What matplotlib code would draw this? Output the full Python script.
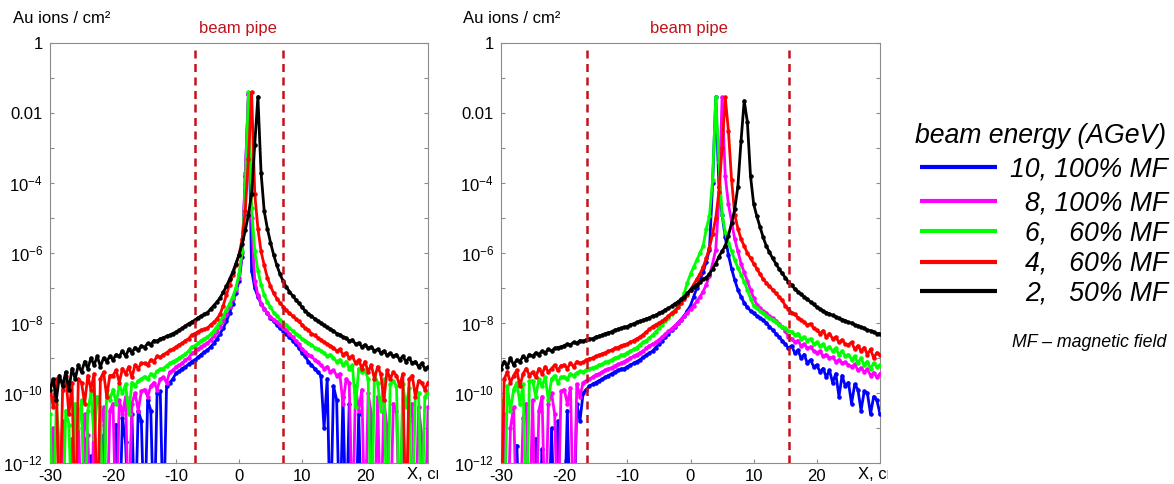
import numpy as np
import matplotlib
matplotlib.use('Agg')
import matplotlib.pyplot as plt
from matplotlib.transforms import Bbox, TransformedBbox
from matplotlib.ticker import FixedLocator, FuncFormatter, NullLocator

plt.rcParams['font.family'] = ['Liberation Sans', 'DejaVu Sans']
plt.rcParams['mathtext.fontset'] = 'custom'
plt.rcParams['mathtext.rm'] = 'Liberation Sans'
plt.rcParams['mathtext.it'] = 'Liberation Sans:italic'
plt.rcParams['axes.unicode_minus'] = False

# bin centres (cm)
X_BINS = np.arange(-30, 30.01, 0.5)

SERIES_LABELS = ['10, 100% MF', '8, 100% MF', '6,   60% MF', '4,   60% MF', '2,   50% MF']
COLORS = ['#0000ff', '#ff00ff', '#00ff00', '#ff0000', '#000000']

# log10(Au ions / cm^2) per bin; -14 = empty bin (below the axis)
LEFT_BLUE = [
    -14, -14, -14, -14, -11.6, -14, -14, -14, -14, -14,
    -14, -11.3, -14, -11.8, -14, -14, -14, -11.2, -14, -14,
    -14, -10.9, -14, -10.7, -11.4, -14, -10.6, -14, -10.5, -10.8,
    -14, -10.2, -10.5, -14, -10.0, -9.95, -14, -9.8, -9.7, -9.6,
    -9.43, -9.38, -9.3, -9.25, -9.18, -9.1, -9.05, -8.98, -8.9, -8.83,
    -8.77, -8.68, -8.58, -8.45, -8.3, -8.15, -7.95, -7.72, -7.45, -7.15,
    -6.8, -6.1, -3.8, -1.45, -6.5, -7.0, -7.25, -7.45, -7.6, -7.72,
    -7.85, -7.95, -8.05, -8.15, -8.22, -8.3, -8.4, -8.5, -8.6, -8.7,
    -8.85, -8.95, -9.1, -9.2, -9.3, -9.4, -9.5, -11.0, -9.6, -14,
    -9.8, -10.2, -14, -10.1, -14, -10.3, -14, -14, -10.6, -14,
    -14, -14, -10.8, -14, -14, -14, -14, -14, -14, -14,
    -14, -14, -14, -14, -14, -14, -14, -14, -14, -14,
    -14]
LEFT_MAGENTA = [
    -14, -11.0, -14, -14, -10.8, -14, -14, -11.3, -14, -10.7,
    -14, -10.6, -11.2, -14, -10.5, -14, -10.9, -10.4, -14, -10.5,
    -10.3, -14, -10.2, -10.6, -10.1, -14, -10.3, -10.0, -10.5, -9.95,
    -9.9, -10.1, -9.8, -9.7, -9.9, -9.6, -9.55, -9.7, -9.4, -9.35,
    -9.25, -9.2, -9.15, -9.05, -9.0, -8.87, -8.82, -8.75, -8.68, -8.62,
    -8.57, -8.48, -8.38, -8.25, -8.1, -7.95, -7.75, -7.55, -7.3, -7.05,
    -6.7, -6.0, -3.7, -1.45, -5.0, -6.8, -7.2, -7.45, -7.6, -7.72,
    -7.82, -7.9, -7.98, -8.05, -8.15, -8.2, -8.3, -8.4, -8.5, -8.6,
    -8.75, -8.82, -8.9, -8.95, -9.05, -9.12, -9.2, -9.3, -9.25, -9.4,
    -9.35, -9.5, -9.45, -10.3, -9.6, -9.7, -14, -9.8, -10.5, -9.9,
    -14, -10.0, -10.6, -14, -10.1, -14, -10.2, -11.0, -14, -10.3,
    -10.5, -14, -10.2, -14, -10.8, -10.3, -14, -10.4, -11.2, -14,
    -10.4]
LEFT_GREEN = [
    -10.6, -14, -10.3, -11.5, -14, -10.5, -10.9, -14, -10.3, -11.0,
    -10.2, -14, -10.5, -10.0, -11.3, -10.1, -10.4, -14, -9.9, -10.2,
    -9.9, -10.3, -9.8, -10.0, -9.75, -10.6, -9.7, -9.8, -9.65, -9.6,
    -9.53, -9.6, -9.45, -9.5, -9.38, -9.32, -9.3, -9.22, -9.15, -9.1,
    -9.06, -9.0, -8.95, -8.88, -8.8, -8.68, -8.65, -8.58, -8.5, -8.45,
    -8.4, -8.32, -8.22, -8.1, -7.96, -7.8, -7.62, -7.45, -7.25, -7.0,
    -6.6, -5.95, -4.1, -1.4, -4.7, -5.95, -6.5, -6.9, -7.2, -7.4,
    -7.55, -7.7, -7.8, -7.9, -8.0, -8.06, -8.15, -8.22, -8.3, -8.36,
    -8.45, -8.5, -8.57, -8.62, -8.7, -8.75, -8.8, -8.85, -8.95, -8.9,
    -9.0, -9.1, -9.05, -9.2, -9.1, -9.3, -9.2, -10.4, -9.3, -9.4,
    -9.35, -9.6, -14, -9.45, -9.7, -10.5, -9.6, -14, -9.75, -9.65,
    -9.8, -14, -9.75, -10.4, -9.85, -14, -9.9, -10.0, -14, -10.1,
    -10.0]
LEFT_RED = [
    -9.8, -10.4, -9.6, -14, -9.9, -9.5, -10.6, -9.7, -14, -9.6,
    -9.7, -10.3, -9.5, -9.9, -9.45, -14, -9.6, -9.4, -10.1, -9.5,
    -9.5, -9.35, -9.7, -9.3, -9.45, -9.25, -9.55, -9.2, -9.3, -9.15,
    -9.15, -9.2, -9.05, -9.1, -8.95, -8.98, -8.9, -8.85, -8.78, -8.75,
    -8.68, -8.62, -8.58, -8.5, -8.45, -8.34, -8.3, -8.25, -8.2, -8.18,
    -8.15, -8.05, -7.98, -7.88, -7.75, -7.5, -7.2, -6.9, -6.62, -6.35,
    -6.05, -5.6, -4.8, -3.3, -1.4, -4.3, -5.3, -5.95, -6.35, -6.7,
    -6.95, -7.15, -7.3, -7.42, -7.53, -7.63, -7.72, -7.8, -7.88, -7.95,
    -8.05, -8.15, -8.2, -8.3, -8.35, -8.42, -8.48, -8.55, -8.6, -8.65,
    -8.7, -8.8, -8.75, -8.9, -8.85, -9.0, -8.95, -9.15, -9.05, -9.3,
    -9.1, -9.4, -9.2, -9.6, -9.25, -9.45, -10.2, -9.35, -9.6, -9.4,
    -9.5, -9.8, -9.45, -14, -9.6, -9.5, -10.1, -9.65, -9.7, -9.9,
    -9.7]
LEFT_BLACK = [
    -9.9, -9.6, -10.2, -9.5, -9.8, -9.4, -9.9, -9.3, -9.6, -9.2,
    -9.4, -9.1, -9.3, -9.0, -9.2, -8.95, -9.25, -9.0, -9.1, -8.95,
    -9.05, -8.9, -8.95, -8.8, -8.95, -8.75, -8.85, -8.7, -8.78, -8.65,
    -8.7, -8.58, -8.62, -8.5, -8.52, -8.45, -8.42, -8.38, -8.35, -8.3,
    -8.26, -8.2, -8.15, -8.08, -8.02, -7.97, -7.92, -7.85, -7.8, -7.75,
    -7.7, -7.6, -7.5, -7.4, -7.28, -7.12, -6.95, -6.75, -6.55, -6.3,
    -6.05, -5.75, -5.35, -4.9, -4.3, -2.9, -1.53, -3.7, -4.8, -5.3,
    -5.7, -6.05, -6.35, -6.6, -6.8, -6.97, -7.1, -7.22, -7.33, -7.43,
    -7.55, -7.65, -7.73, -7.8, -7.88, -7.94, -8.0, -8.07, -8.12, -8.18,
    -8.22, -8.3, -8.33, -8.4, -8.43, -8.52, -8.48, -8.6, -8.57, -8.68,
    -8.62, -8.72, -8.68, -8.8, -8.75, -8.85, -8.8, -8.92, -8.86, -8.95,
    -8.9, -9.05, -8.95, -9.1, -9.0, -9.15, -9.1, -9.25, -9.15, -9.3,
    -9.25]

RIGHT_BLUE = [
    -14, -14, -14, -14, -14, -11.5, -14, -14, -14, -14,
    -14, -11.3, -14, -11.6, -14, -14, -11.0, -14, -10.8, -14,
    -14, -10.5, -14, -14, -10.3, -10.8, -10.0, -9.9, -9.8, -9.75,
    -9.7, -9.65, -9.6, -9.55, -9.5, -9.45, -9.4, -9.35, -9.32, -9.3,
    -9.25, -9.2, -9.15, -9.1, -9.05, -8.98, -8.92, -8.86, -8.8, -8.7,
    -8.6, -8.5, -8.4, -8.3, -8.2, -8.1, -8.0, -7.9, -7.8, -7.65,
    -7.5, -7.25, -7.0, -6.77, -6.55, -6.25, -5.9, -4.0, -1.54, -4.1,
    -4.9, -5.55, -6.05, -6.45, -6.77, -7.05, -7.25, -7.42, -7.55, -7.65,
    -7.72, -7.8, -7.85, -7.92, -8.0, -8.1, -8.2, -8.3, -8.4, -8.5,
    -8.6, -8.72, -8.65, -8.85, -8.78, -9.0, -8.9, -9.15, -9.05, -9.25,
    -9.2, -9.4, -9.3, -9.55, -9.35, -9.7, -9.45, -10.1, -9.5, -9.8,
    -9.7, -10.3, -9.75, -9.9, -10.5, -9.95, -10.0, -10.6, -10.1, -10.2,
    -10.6]
RIGHT_MAGENTA = [
    -14, -10.6, -14, -11.0, -10.4, -14, -14, -10.7, -10.3, -14,
    -10.2, -14, -10.5, -10.1, -14, -10.3, -10.0, -10.6, -14, -9.95,
    -9.9, -10.3, -9.85, -14, -9.75, -10.1, -9.7, -9.65, -9.6, -9.55,
    -9.48, -9.45, -9.4, -9.35, -9.3, -9.28, -9.22, -9.18, -9.15, -9.1,
    -9.05, -9.0, -8.95, -8.9, -8.85, -8.8, -8.72, -8.65, -8.6, -8.55,
    -8.48, -8.4, -8.32, -8.24, -8.16, -8.08, -8.0, -7.9, -7.8, -7.7,
    -7.6, -7.5, -7.38, -7.25, -7.1, -6.9, -6.65, -6.3, -5.9, -4.5,
    -1.55, -3.8, -4.6, -5.1, -5.6, -5.95, -6.3, -6.55, -6.8, -7.05,
    -7.28, -7.48, -7.58, -7.66, -7.72, -7.8, -7.86, -7.94, -8.02, -8.1,
    -8.22, -8.4, -8.45, -8.55, -8.5, -8.65, -8.6, -8.72, -8.68, -8.8,
    -8.85, -8.8, -8.95, -8.9, -9.0, -8.98, -9.1, -9.05, -9.15, -9.12,
    -9.2, -9.25, -9.18, -9.35, -9.28, -9.4, -9.32, -9.5, -9.42, -9.55,
    -9.45]
RIGHT_GREEN = [
    -10.2, -14, -9.8, -10.5, -9.9, -9.7, -10.3, -9.75, -14, -9.65,
    -9.65, -10.1, -9.6, -9.8, -9.55, -10.2, -9.6, -9.5, -9.7, -9.55,
    -9.53, -9.6, -9.45, -9.5, -9.42, -9.38, -9.4, -9.34, -9.3, -9.28,
    -9.25, -9.2, -9.18, -9.12, -9.1, -9.05, -9.0, -8.98, -8.92, -8.9,
    -8.85, -8.8, -8.75, -8.7, -8.62, -8.55, -8.5, -8.42, -8.35, -8.25,
    -8.15, -8.05, -7.95, -7.85, -7.75, -7.65, -7.55, -7.42, -7.15, -6.85,
    -6.6, -6.4, -6.2, -6.0, -5.8, -5.3, -4.95, -3.9, -1.55, -3.4,
    -4.9, -5.4, -5.7, -5.95, -6.2, -6.42, -6.62, -6.82, -7.05, -7.3,
    -7.5, -7.58, -7.65, -7.72, -7.8, -7.85, -7.92, -7.98, -8.05, -8.1,
    -8.15, -8.22, -8.25, -8.35, -8.3, -8.45, -8.4, -8.5, -8.45, -8.6,
    -8.55, -8.65, -8.6, -8.75, -8.68, -8.8, -8.72, -8.9, -8.8, -8.95,
    -8.9, -9.05, -8.95, -9.15, -9.0, -9.2, -9.1, -9.3, -9.15, -9.25,
    -9.2]
RIGHT_RED = [
    -14, -9.6, -9.4, -9.7, -9.5, -9.35, -9.8, -9.45, -9.3, -9.5,
    -9.4, -9.55, -9.3, -9.45, -9.25, -9.4, -9.3, -9.2, -9.35, -9.22,
    -9.2, -9.3, -9.15, -9.25, -9.1, -9.15, -9.12, -9.06, -9.02, -9.0,
    -8.95, -8.92, -8.88, -8.85, -8.8, -8.78, -8.72, -8.7, -8.65, -8.62,
    -8.6, -8.55, -8.5, -8.45, -8.4, -8.33, -8.26, -8.18, -8.1, -8.05,
    -8.0, -7.95, -7.88, -7.8, -7.72, -7.65, -7.55, -7.42, -7.32, -7.2,
    -7.05, -6.9, -6.75, -6.6, -6.4, -6.15, -5.85, -5.45, -5.0, -4.25,
    -3.0, -1.55, -2.5, -3.9, -4.9, -5.3, -5.6, -5.8, -6.0, -6.15,
    -6.3, -6.45, -6.6, -6.75, -6.85, -6.95, -7.05, -7.15, -7.25, -7.35,
    -7.5, -7.6, -7.7, -7.75, -7.85, -7.9, -7.98, -8.05, -8.02, -8.15,
    -8.2, -8.3, -8.22, -8.4, -8.3, -8.45, -8.4, -8.55, -8.48, -8.6,
    -8.62, -8.55, -8.75, -8.65, -8.8, -8.7, -8.9, -8.75, -9.0, -8.85,
    -8.9]
RIGHT_BLACK = [
    -9.3, -9.1, -9.25, -9.0, -9.2, -9.05, -9.1, -8.95, -9.05, -8.9,
    -8.95, -8.85, -8.9, -8.8, -8.85, -8.75, -8.8, -8.72, -8.7, -8.68,
    -8.65, -8.6, -8.62, -8.55, -8.58, -8.5, -8.52, -8.48, -8.45, -8.45,
    -8.4, -8.38, -8.35, -8.3, -8.28, -8.25, -8.2, -8.18, -8.15, -8.12,
    -8.1, -8.05, -8.02, -7.98, -7.95, -7.92, -7.88, -7.85, -7.8, -7.78,
    -7.72, -7.68, -7.62, -7.58, -7.52, -7.45, -7.4, -7.32, -7.25, -7.15,
    -7.05, -6.97, -6.9, -6.82, -6.75, -6.7, -6.6, -6.45, -6.3, -6.1,
    -5.95, -5.8, -5.5, -5.15, -4.75, -4.1, -2.8, -1.65, -2.25, -3.8,
    -4.6, -4.95, -5.25, -5.55, -5.8, -5.98, -6.15, -6.3, -6.45, -6.58,
    -6.7, -6.82, -6.92, -7.02, -7.1, -7.18, -7.25, -7.32, -7.4, -7.47,
    -7.55, -7.6, -7.65, -7.7, -7.74, -7.78, -7.82, -7.87, -7.9, -7.93,
    -7.98, -8.0, -8.05, -8.08, -8.12, -8.15, -8.2, -8.22, -8.25, -8.3,
    -8.3]

LEFT_SERIES = [LEFT_BLUE, LEFT_MAGENTA, LEFT_GREEN, LEFT_RED, LEFT_BLACK]
RIGHT_SERIES = [RIGHT_BLUE, RIGHT_MAGENTA, RIGHT_GREEN, RIGHT_RED, RIGHT_BLACK]

PIPE_LEFT = [-7.0, 7.0]
PIPE_RIGHT = [-16.4, 15.6]
X_TICKS = [-30, -20, -10, 0, 10, 20]
X_TICK_LABELS = ['-30', '-20', '-10', '0', '10', '20']
Y_EXPONENTS = list(range(0, -13, -1))

PIPE_COLOR = '#c0141c'
SPINE_COLOR = '#8c8c8c'

W, H = 1174, 484
fig = plt.figure(figsize=(W / 100, H / 100), dpi=100)


def px_axes(x0, x1, ytop, ybot):
    return fig.add_axes([x0 / W, 1 - ybot / H, (x1 - x0) / W, (ybot - ytop) / H])


def ylab(v, pos):
    e = int(round(np.log10(v)))
    if e % 2:
        return ''
    if e == 0:
        return '1'
    if e == -2:
        return '0.01'
    return r'$\mathregular{10^{%d}}$' % e


ov = fig.add_axes([0, 0, 1, 1])
ov.set_xlim(0, W)
ov.set_ylim(H, 0)
ov.axis('off')
ov.patch.set_visible(False)

panels = [(px_axes(50, 428, 43, 463), LEFT_SERIES, PIPE_LEFT, 438, 239),
          (px_axes(501, 880, 43, 463), RIGHT_SERIES, PIPE_RIGHT, 888, 690)]

for ax, series, pipes, clip_x, cx in panels:
    ax.set_yscale('log')
    for vals, col in zip(series, COLORS):
        ax.plot(X_BINS, 10.0 ** np.array(vals), '-', color=col, lw=2.0,
                marker='.', ms=4.5, zorder=3)
    for xp in pipes:
        ax.axvline(xp, ymin=0, ymax=0.995, color=PIPE_COLOR, lw=1.8,
                   ls=(0, (3.2, 2.2)), zorder=4)
    ax.set_xlim(-30, 30)
    ax.set_ylim(1e-12, 1)
    ax.yaxis.set_major_locator(FixedLocator([10.0 ** e for e in Y_EXPONENTS]))
    ax.yaxis.set_minor_locator(NullLocator())
    ax.yaxis.set_major_formatter(FuncFormatter(ylab))
    ax.set_xticks(X_TICKS)
    ax.set_xticklabels(X_TICK_LABELS)
    ax.xaxis.set_minor_locator(NullLocator())
    ax.tick_params(axis='y', which='major', direction='in', length=3,
                   left=True, right=True, color=SPINE_COLOR, labelsize=12, pad=5)
    ax.tick_params(axis='x', which='major', direction='in', length=3,
                   top=False, color=SPINE_COLOR, labelsize=12, pad=4)
    for sp in ax.spines.values():
        sp.set_color(SPINE_COLOR)
        sp.set_linewidth(0.8)
    # axis title at the place of the last tick label, cut by the image edge
    t = ov.text(cx + 189, 467, 'X, cm', ha='center', va='top', fontsize=12)
    t.set_clip_on(True)
    t.set_clip_box(TransformedBbox(Bbox([[0, 0], [clip_x / W, 1]]), fig.transFigure))
    ov.text(cx - 1.5, 33, 'beam pipe', ha='center', va='baseline',
            fontsize=12, color=PIPE_COLOR)

ov.text(12.7, 23, 'Au ions / cm\u00b2', ha='left', va='baseline', fontsize=12)
ov.text(462.7, 23, 'Au ions / cm\u00b2', ha='left', va='baseline', fontsize=12)

# legend
ov.text(1166, 143, 'beam energy (AGeV)', ha='right', va='baseline',
        fontsize=19.2, style='italic')
LEG_Y = [167, 201, 231, 262, 291]
for lab, col, y in zip(SERIES_LABELS, COLORS, LEG_Y):
    ov.plot([920, 997], [y, y], color=col, lw=3, solid_capstyle='butt')
    ov.text(1168, y + 9, lab, ha='right', va='baseline', fontsize=19.2, style='italic')
ov.text(1166, 347, 'MF \u2013 magnetic field', ha='right', va='baseline',
        fontsize=12.8, style='italic')

fig.savefig('out.png', dpi=100)
